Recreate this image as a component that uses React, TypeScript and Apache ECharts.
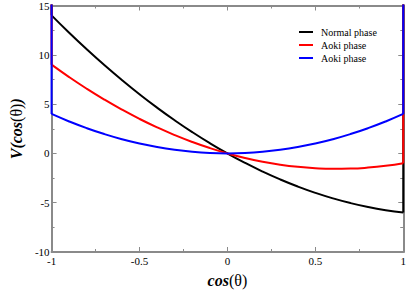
import React, { useEffect, useRef } from "react";
import * as echarts from "echarts";

const xValues = [-1, -0.9, -0.8, -0.7, -0.6, -0.5, -0.4, -0.3, -0.2, -0.1, 0, 0.1, 0.2, 0.3, 0.4, 0.5, 0.6, 0.7, 0.8, 0.9, 1];
const normalPhase = [14, 12.24, 10.56, 8.96, 7.44, 6, 4.64, 3.36, 2.16, 1.04, 0, -0.96, -1.84, -2.64, -3.36, -4, -4.56, -5.04, -5.44, -5.76, -6];
const aokiPhaseRed = [9, 7.74, 6.56, 5.46, 4.44, 3.5, 2.64, 1.86, 1.16, 0.54, 0, -0.46, -0.84, -1.14, -1.36, -1.5, -1.56, -1.54, -1.44, -1.26, -1];
const aokiPhaseBlue = [4, 3.24, 2.56, 1.96, 1.44, 1, 0.64, 0.36, 0.16, 0.04, 0, 0.04, 0.16, 0.36, 0.64, 1, 1.44, 1.96, 2.56, 3.24, 4];
const legendNames = ["Normal phase", "Aoki phase", "Aoki phase"];
const colors = ["#000000", "#ff0000", "#0000ff"];
const xTicks = ["-1", "-0.5", "0", "0.5", "1"];
const edgeTop = 30;

const serif = "'Liberation Serif', 'Times New Roman', serif";
const axisGray = "#8a8a8a";

export default function App() {
  const ref = useRef<HTMLDivElement>(null);
  useEffect(() => {
    if (!ref.current) return;
    const chart = echarts.init(ref.current, null, { renderer: "svg" });
    const curves = [normalPhase, aokiPhaseRed, aokiPhaseBlue];
    const series: any[] = [];
    curves.forEach((vals, i) => {
      series.push({
        type: "line",
        data: xValues.map((x, k) => [x, vals[k]]),
        smooth: true,
        showSymbol: false,
        symbol: "none",
        clip: true,
        lineStyle: { color: colors[i], width: 2 },
        silent: true,
      });
      series.push({
        type: "line",
        data: [[xValues[0], edgeTop], [xValues[0], vals[0]]],
        showSymbol: false,
        symbol: "none",
        clip: true,
        lineStyle: { color: colors[i], width: 2 },
        silent: true,
      });
      series.push({
        type: "line",
        data: [[xValues[xValues.length - 1], edgeTop], [xValues[xValues.length - 1], vals[vals.length - 1]]],
        showSymbol: false,
        symbol: "none",
        clip: true,
        lineStyle: { color: colors[i], width: 2 },
        silent: true,
      });
    });

    const baseAxis = {
      axisLine: { show: true, onZero: false, lineStyle: { color: axisGray, width: 2 } },
      splitLine: { show: false },
    };
    const tickStyle = { inside: true, length: 5, lineStyle: { color: axisGray, width: 1 } };
    const minorStyle = { show: true, splitNumber: 2, length: 3, lineStyle: { color: axisGray, width: 1 } };

    const legendGraphics: any[] = [];
    legendNames.forEach((name, i) => {
      const y = 32 + i * 13;
      legendGraphics.push({
        type: "line",
        shape: { x1: 299, y1: y, x2: 313, y2: y },
        style: { stroke: colors[i], lineWidth: 2 },
      });
      legendGraphics.push({
        type: "text",
        x: 321,
        y: y,
        style: { text: name, font: `10px ${serif}`, fill: "#000", verticalAlign: "middle", textVerticalAlign: "middle" },
      });
    });

    const titleRich = {
      a: { fontFamily: serif, fontSize: 16, fontWeight: "bold", fontStyle: "italic", color: "#000" },
      b: { fontFamily: serif, fontSize: 16, fontWeight: "normal", color: "#000" },
    };

    chart.setOption({
      animation: false,
      grid: { left: 35, right: 3, top: 5, bottom: 29, containLabel: false },
      xAxis: [
        {
          type: "value",
          min: -1,
          max: 1,
          interval: 0.5,
          position: "bottom",
          ...baseAxis,
          axisTick: tickStyle,
          minorTick: minorStyle,
          axisLabel: {
            color: "#000",
            fontFamily: serif,
            fontSize: 11,
            margin: 3,
            formatter: (v: number) => {
              const idx = Math.round((v + 1) / 0.5);
              return xTicks[idx] ?? String(v);
            },
          },
          name: "{a|cos}{b|(θ)}",
          nameLocation: "middle",
          nameGap: 20,
          nameTextStyle: { rich: titleRich },
        },
        {
          type: "value",
          min: -1,
          max: 1,
          interval: 0.5,
          position: "top",
          ...baseAxis,
          axisTick: tickStyle,
          minorTick: minorStyle,
          axisLabel: { show: false },
        },
      ],
      yAxis: [
        {
          type: "value",
          min: -10,
          max: 15,
          interval: 5,
          position: "left",
          ...baseAxis,
          axisTick: tickStyle,
          minorTick: minorStyle,
          axisLabel: { color: "#000", fontFamily: serif, fontSize: 11, margin: 2 },
          name: "{a|V(cos}{b|(θ)}{a|)}",
          nameLocation: "middle",
          nameGap: 26,
          nameRotate: 90,
          nameTextStyle: { rich: titleRich },
        },
        {
          type: "value",
          min: -10,
          max: 15,
          interval: 5,
          position: "right",
          ...baseAxis,
          axisTick: tickStyle,
          minorTick: minorStyle,
          axisLabel: { show: false },
        },
      ],
      series,
      graphic: legendGraphics,
    });
    return () => chart.dispose();
  }, []);
  return <div ref={ref} style={{ width: 409, height: 293, position: "absolute", left: 0, top: 0, background: "#fff" }} />;
}
